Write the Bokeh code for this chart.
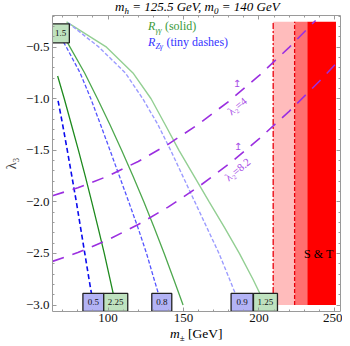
from bokeh.plotting import figure
from bokeh.models import Range1d, LinearAxis, FixedTicker, Label, Div
from bokeh.layouts import column
from bokeh.core.properties import value
from bokeh.embed import file_html
from bokeh.resources import INLINE

# ---------------- data ----------------
lam_grid = [-0.5, -0.75, -1.0, -1.25, -1.5, -1.75, -2.0, -2.25, -2.5, -2.75, -3.0]

# R_Zgamma = 0.5 (dark blue dashes)
zg05_lam = [-1.02, -1.25, -1.5, -1.75, -2.0, -2.25, -2.5, -2.75, -3.0]
zg05_m = [66.9, 69.9, 73.0, 76.0, 79.0, 81.8, 84.6, 87.4, 90.3]
# R_gammagamma = 2.25 (dark green)
gg225_lam = [-0.78, -1.0, -1.25, -1.5, -1.75, -2.0, -2.25, -2.5, -2.75, -3.0]
gg225_m = [66.6, 71.0, 75.7, 80.4, 84.9, 89.2, 93.4, 97.5, 101.3, 105.1]
# R_Zgamma = 0.8 (medium blue dashes)
zg08_lam = [-0.40] + lam_grid
zg08_m = [68.4, 72.4, 81.5, 88.6, 95.0, 101.3, 107.5, 113.7, 119.8, 125.5, 130.5, 135.6]
# R_gammagamma = 1.5 (medium green)
gg15_lam = [-0.40] + lam_grid
gg15_m = [71.0, 74.8, 84.5, 93.0, 101.2, 109.0, 116.5, 123.7, 130.6, 137.2, 143.5, 149.7]
# R_Zgamma = 0.9 (light blue dashes)
zg09_lam = [-0.263] + lam_grid
zg09_m = [73.5, 94.0, 111.5, 123.0, 133.0, 141.5, 149.5, 157.5, 165.5, 173.5, 180.5, 187.3]
# R_gammagamma = 1.25 (light green)
gg125_lam = [-0.254] + lam_grid
gg125_m = [72.5, 99.0, 116.5, 128.5, 137.8, 147.0, 157.0, 167.0, 177.2, 187.0, 196.0, 204.3]

# lambda_2 bounds (purple)
l2_4_m = [63.2, 80, 100, 120, 140, 160, 180, 200, 220, 237.5]
l2_4_lam = [-1.940, -1.864, -1.750, -1.608, -1.440, -1.246, -1.025, -0.777, -0.502, -0.241]
l2_82_m = [63.2, 80, 100, 120, 140, 160, 180, 200, 220, 240, 254]
l2_82_lam = [-2.577, -2.492, -2.368, -2.220, -2.049, -1.853, -1.634, -1.390, -1.122, -0.831, -0.612]

# S & T exclusion bands
band_left = [209.4, 223.6, 232.0]
band_right = [223.6, 232.0, 251.0]
band_colors = ["#ffbcbc", "#ff7070", "#ff0000"]
band_bottom = -3.0
band_top = -0.254
st_dashdot = 209.4
st_dashed = 223.6

x_ticks = [100, 150, 200, 250]
y_ticks = [-3.0, -2.5, -2.0, -1.5, -1.0, -0.5]

FONT = "Liberation Serif"
X0, X1 = 63.2, 254.0
Y0, Y1 = -3.063, -0.193

W = 342
p = figure(width=W, height=314, x_range=Range1d(X0, X1), y_range=Range1d(Y0, Y1),
           output_backend="svg", toolbar_location=None,
           min_border_left=49, min_border_right=2, min_border_top=1, min_border_bottom=17)
p.grid.visible = False
p.outline_line_color = None
p.background_fill_color = "white"

AX = "#9a9a9a"
xt = FixedTicker(ticks=x_ticks, minor_ticks=list(range(70, 251, 10)))
yt = FixedTicker(ticks=y_ticks, minor_ticks=[round(-3.0 + 0.1 * i, 1) for i in range(29)])

def style_axis(ax):
    ax.major_tick_in = 4
    ax.major_tick_out = 0
    ax.minor_tick_in = 2
    ax.minor_tick_out = 0
    ax.axis_line_color = AX
    ax.major_tick_line_color = AX
    ax.minor_tick_line_color = AX
    ax.major_label_text_font = FONT
    ax.major_label_text_font_size = "13px"
    ax.major_label_text_color = "#111111"

p.xaxis.ticker = xt
p.yaxis.ticker = yt
for ax in p.xaxis + p.yaxis:
    style_axis(ax)
p.xaxis.major_label_standoff = 2
p.yaxis.major_label_standoff = 3
p.yaxis.major_label_overrides = {t: ("\u2212%.1f" % abs(t)) for t in y_ticks}
p.yaxis.axis_label = "\u03bb\u2083"
p.yaxis.axis_label_text_font = FONT
p.yaxis.axis_label_text_font_size = "14px"
p.yaxis.axis_label_text_font_style = "normal"
p.yaxis.axis_label_standoff = 4

top = LinearAxis(ticker=xt)
style_axis(top)
top.major_label_overrides = {t: "" for t in x_ticks}
top.major_label_text_font_size = "0px"
top.major_label_standoff = 0
p.add_layout(top, "above")
right = LinearAxis(ticker=yt)
style_axis(right)
right.major_label_overrides = {t: "" for t in y_ticks}
right.major_label_text_font_size = "0px"
right.major_label_standoff = 0
p.add_layout(right, "right")

# bands
p.quad(left=band_left, right=band_right, bottom=band_bottom, top=band_top,
       fill_color=band_colors, line_color=None)
p.line([st_dashdot, st_dashdot], [band_bottom, band_top], line_color="#e8000b", line_width=1.3, line_dash="6 2 2 2")
p.line([st_dashed, st_dashed], [band_bottom, band_top], line_color="#e8000b", line_width=1.3, line_dash="4 2")

# contours
p.line(gg125_m, gg125_lam, line_color="#93cf93", line_width=1.4)
p.line(zg09_m, zg09_lam, line_color="#9c9cff", line_width=1.4, line_dash="4 2")
p.line(gg15_m, gg15_lam, line_color="#4ea84e", line_width=1.3)
p.line(zg08_m, zg08_lam, line_color="#5555ff", line_width=1.3, line_dash="4 2")
p.line(gg225_m, gg225_lam, line_color="#1e8a1e", line_width=1.3)
p.line(zg05_m, zg05_lam, line_color="#0a0aee", line_width=1.6, line_dash="5 3")

# lambda_2 lines
PURPLE = "#9b2fe0"
p.line(l2_4_m, l2_4_lam, line_color=PURPLE, line_width=1.6, line_dash="12 9")
p.line(l2_82_m, l2_82_lam, line_color=PURPLE, line_width=1.6, line_dash="12 9")

# contour label boxes
BLUEBOX = "#b3b3f5"
GREENBOX = "#bfe2bf"
box_text = ["0.5", "2.25", "0.8", "0.9", "1.25"]
box_x = [zg05_m[-1], gg225_m[-1], zg08_m[-1], zg09_m[-1] + 1.5, gg125_m[-1]]
box_w = [21, 24, 20, 22, 24]
box_fill = [BLUEBOX, GREENBOX, BLUEBOX, BLUEBOX, GREENBOX]
box_y = [-2.975] * 5
p.rect(box_x, box_y, width=box_w, height=18, width_units="screen", height_units="screen",
       fill_color=box_fill, line_color="#222222", line_width=1.3)
p.text(box_x, box_y, text=box_text, text_font=value(FONT), text_font_size="9px",
       text_align="center", text_baseline="middle", text_color="#111111")
p.rect([68.5], [-0.366], width=17.7, height=19, width_units="screen", height_units="screen",
       fill_color=GREENBOX, line_color="#222222", line_width=1.3)
p.text([68.5], [-0.366], text=["1.5"], text_font=value(FONT), text_font_size="9px",
       text_align="center", text_baseline="middle", text_color="#111111")

def lab(x, y, text, size, color="black", style="normal", dx=0, base="middle", angle=0, align="left"):
    p.add_layout(Label(x=x, y=y, x_offset=dx, text=text, text_font=FONT, text_font_size=f"{size}px",
                       text_font_style=style, text_color=color, text_align=align,
                       text_baseline=base, angle=angle, angle_units="deg"))

# legend
G = "#3a9a3a"
B = "#3535ff"
lab(126.4, -0.295, "R", 12, G, "italic")
lab(126.4, -0.295, "\u03b3\u03b3", 8, G, "italic", dx=7.5, base="top")
lab(126.4, -0.295, "(solid)", 12, G, dx=17)
lab(126.4, -0.447, "R", 12, B, "italic")
lab(126.4, -0.447, "Z\u03b3", 8, B, "italic", dx=7.5, base="top")
lab(126.4, -0.447, "(tiny dashes)", 12, B, dx=18.5)

# lambda_2 labels
LP = "#a64ce6"
for (xm, yarr, ylab, txt) in [(185.5, -0.85, -1.07, "\u03bb\u2082=4"), (185.8, -1.46, -1.685, "\u03bb\u2082=8.2")]:
    lab(xm, yarr, "\u21a5", 10, LP, align="center")
    lab(xm, ylab, txt, 11, LP, angle=39, align="center")

lab(239.6, -2.504, "S & T", 12, "black", align="center")

SUB = "font-size:9px;line-height:0;vertical-align:-3px;"
title = Div(text=("<i>m</i><sub style='%s'><i>h</i></sub><i> = 125.5 GeV, m</i>"
                  "<sub style='%s'><i>0</i></sub><i> = 140 GeV</i>") % (SUB, SUB),
            width=W, height=14, margin=0,
            styles={"font-family": "'Liberation Serif', serif", "font-size": "13px",
                    "line-height": "14px", "padding-left": "115px", "white-space": "nowrap",
                    "color": "black"})
xlabel = Div(text="<i>m</i><sub style='%s'>\u00b1</sub> [GeV]" % SUB,
             width=W, height=10, margin=0,
             styles={"font-family": "'Liberation Serif', serif", "font-size": "13.5px",
                     "line-height": "12px", "padding-left": "170px", "white-space": "nowrap",
                     "color": "black"})

layout = column(title, p, xlabel, spacing=0)
open("out.html", "w").write(file_html(layout, INLINE))
